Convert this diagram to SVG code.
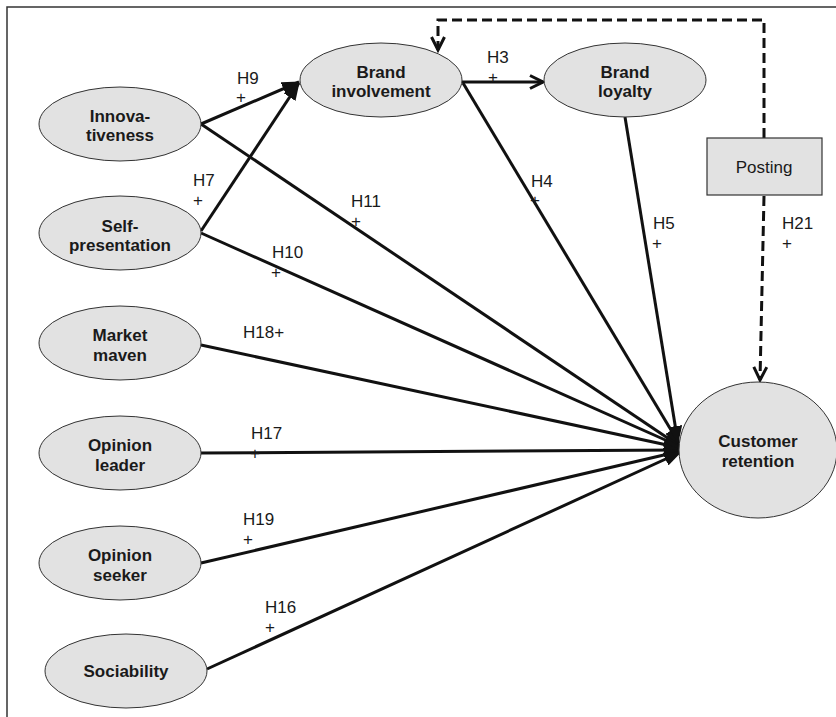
<svg xmlns="http://www.w3.org/2000/svg" width="836" height="717" viewBox="0 0 836 717">
  <style>
    .node ellipse { fill: #e2e2e2; stroke: #333; stroke-width: 1; }
    .node rect { fill: #e2e2e2; stroke: #333; stroke-width: 1.2; }
    .nt { font-family: "Liberation Sans", Arial, sans-serif; font-size: 17px; font-weight: bold; fill: #1a1a1a; text-anchor: middle; }
    .pt { font-family: "Liberation Sans", Arial, sans-serif; font-size: 17px; fill: #1a1a1a; text-anchor: middle; }
    .lbl { font-family: "Liberation Sans", Arial, sans-serif; font-size: 17px; fill: #1a1a1a; }
    .edge { stroke: #111; stroke-width: 3; fill: none; }
    .dash { stroke: #111; stroke-width: 3; fill: none; stroke-dasharray: 10 5; }
  </style>
  <defs>
    <marker id="solidHead" markerUnits="userSpaceOnUse" markerWidth="18" markerHeight="14" refX="17" refY="7" orient="auto">
      <path d="M0,0 L18,7 L0,14 z" fill="#111"/>
    </marker>
    <marker id="openHead" markerUnits="userSpaceOnUse" markerWidth="18" markerHeight="16" refX="15" refY="8" orient="auto">
      <path d="M2,1.5 L15,8 L2,14.5" fill="none" stroke="#111" stroke-width="3"/>
    </marker>
  </defs>

  <rect x="0" y="0" width="836" height="717" fill="#ffffff"/>
  <!-- frame -->
  <path d="M7,717 L7,7 L836,7" fill="none" stroke="#333" stroke-width="1.5"/>

  <!-- connectors -->
  <g id="connectors">
    <line class="edge" x1="201" y1="124" x2="299" y2="82" marker-end="url(#solidHead)"/>
    <line class="edge" x1="201" y1="231" x2="299" y2="83" marker-end="url(#solidHead)"/>
    <line class="edge" x1="462" y1="82" x2="543" y2="82" marker-end="url(#openHead)"/>
    <line class="edge" x1="201" y1="124" x2="681" y2="447" marker-end="url(#solidHead)"/>
    <line class="edge" x1="201" y1="233" x2="681" y2="447" marker-end="url(#solidHead)"/>
    <line class="edge" x1="201" y1="345" x2="681" y2="448" marker-end="url(#solidHead)"/>
    <line class="edge" x1="201" y1="453" x2="681" y2="450" marker-end="url(#solidHead)"/>
    <line class="edge" x1="201" y1="563" x2="681" y2="451" marker-end="url(#solidHead)"/>
    <line class="edge" x1="207" y1="669" x2="681" y2="452" marker-end="url(#solidHead)"/>
    <line class="edge" x1="463" y1="83" x2="680" y2="445" marker-end="url(#solidHead)"/>
    <line class="edge" x1="625" y1="117" x2="678" y2="443" marker-end="url(#solidHead)"/>
    <path class="dash" d="M764,138 L764,20 L438,20 L438,50" marker-end="url(#openHead)"/>
    <path class="dash" d="M764,196 L760,380" marker-end="url(#openHead)"/>
  </g>

  <!-- path labels -->
  <g id="labels">
    <text class="lbl" x="237" y="84">H9</text><text class="lbl" x="236" y="103">+</text>
    <text class="lbl" x="193" y="186">H7</text><text class="lbl" x="193" y="206">+</text>
    <text class="lbl" x="351" y="207">H11</text><text class="lbl" x="351" y="227">+</text>
    <text class="lbl" x="272" y="258">H10</text><text class="lbl" x="271" y="278">+</text>
    <text class="lbl" x="487" y="63">H3</text><text class="lbl" x="488" y="83">+</text>
    <text class="lbl" x="531" y="187">H4</text><text class="lbl" x="530" y="206">+</text>
    <text class="lbl" x="653" y="229">H5</text><text class="lbl" x="652" y="249">+</text>
    <text class="lbl" x="782" y="229">H21</text><text class="lbl" x="782" y="249">+</text>
    <text class="lbl" x="243" y="338">H18+</text>
    <text class="lbl" x="251" y="439">H17</text><text class="lbl" x="250" y="459">+</text>
    <text class="lbl" x="243" y="525">H19</text><text class="lbl" x="243" y="545">+</text>
    <text class="lbl" x="265" y="613">H16</text><text class="lbl" x="265" y="633">+</text>
  </g>

  <!-- nodes -->
  <g id="innovativeness" class="node">
    <ellipse cx="120" cy="124" rx="81" ry="37"/>
    <text class="nt" x="120" y="122">Innova-</text>
    <text class="nt" x="120" y="141">tiveness</text>
  </g>
  <g id="self-presentation" class="node">
    <ellipse cx="120" cy="233" rx="81" ry="37"/>
    <text class="nt" x="120" y="232">Self-</text>
    <text class="nt" x="120" y="251">presentation</text>
  </g>
  <g id="market-maven" class="node">
    <ellipse cx="120" cy="343" rx="81" ry="37"/>
    <text class="nt" x="120" y="341">Market</text>
    <text class="nt" x="120" y="361">maven</text>
  </g>
  <g id="opinion-leader" class="node">
    <ellipse cx="120" cy="453" rx="81" ry="37"/>
    <text class="nt" x="120" y="451">Opinion</text>
    <text class="nt" x="120" y="471">leader</text>
  </g>
  <g id="opinion-seeker" class="node">
    <ellipse cx="120" cy="563" rx="81" ry="37"/>
    <text class="nt" x="120" y="561">Opinion</text>
    <text class="nt" x="120" y="581">seeker</text>
  </g>
  <g id="sociability" class="node">
    <ellipse cx="126" cy="671" rx="81" ry="37"/>
    <text class="nt" x="126" y="677">Sociability</text>
  </g>
  <g id="brand-involvement" class="node">
    <ellipse cx="381" cy="80" rx="81" ry="37"/>
    <text class="nt" x="381" y="78">Brand</text>
    <text class="nt" x="381" y="97">involvement</text>
  </g>
  <g id="brand-loyalty" class="node">
    <ellipse cx="625" cy="80" rx="81" ry="37"/>
    <text class="nt" x="625" y="78">Brand</text>
    <text class="nt" x="625" y="97">loyalty</text>
  </g>
  <g id="posting" class="node">
    <rect x="707" y="138" width="115" height="57"/>
    <text class="pt" x="764" y="173">Posting</text>
  </g>
  <g id="customer-retention" class="node">
    <ellipse cx="758" cy="450" rx="79" ry="68"/>
    <text class="nt" x="758" y="447">Customer</text>
    <text class="nt" x="758" y="467">retention</text>
  </g>
</svg>
